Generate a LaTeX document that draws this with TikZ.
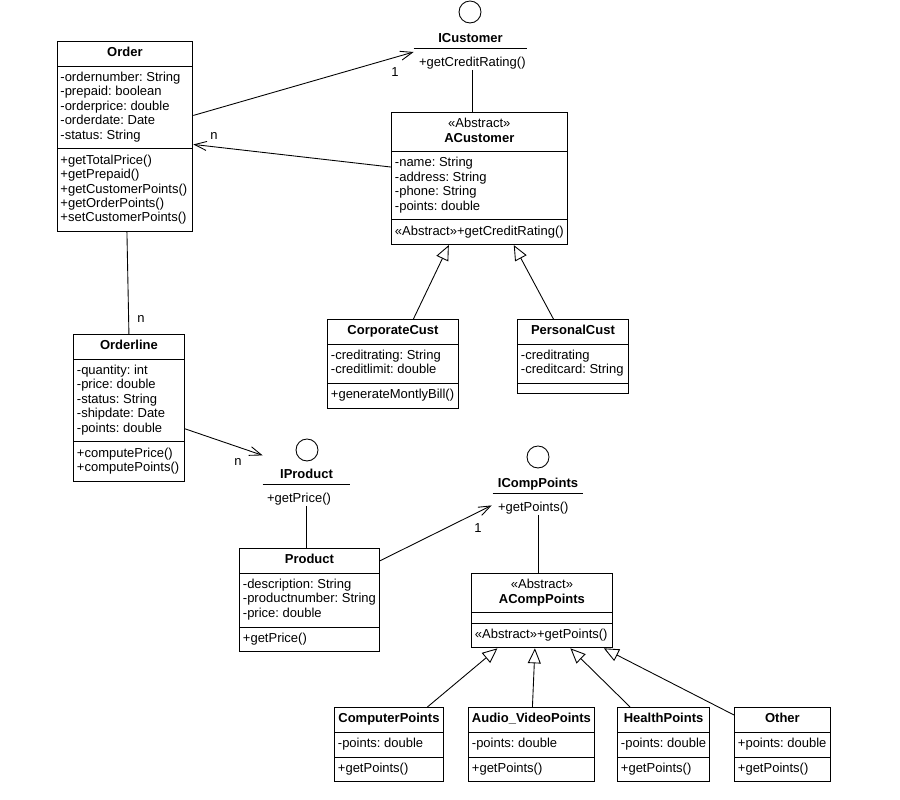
\documentclass[tikz,border=0pt]{standalone}
\usepackage{fontspec}
\setmainfont{Liberation Sans}
\usetikzlibrary{arrows.meta,positioning,shapes.multipart}
\newcommand{\umlfont}{\fontsize{7.4}{8.22}\selectfont\frenchspacing}
\newcommand{\rows}[1]{\begin{tabular}{@{}l@{}}#1\end{tabular}}
\newcommand{\stereo}[2]{\begin{tabular}{@{}c@{}}#1\\\textbf{#2}\end{tabular}}
\newcommand{\nothing}{\rule{1pt}{0pt}}
\tikzset{
  cls/.style={draw=black,line width=0.5pt,rectangle split,rectangle split parts=3,
    rectangle split part align={center,left,left},
    inner xsep=0.07cm,inner ysep=0.095cm,font=\umlfont,anchor=north west},
  % --- interface in lollipop notation ---
  lolli/.style={circle,draw=black,line width=0.5pt,minimum size=0.44cm,inner sep=0pt},
  iname/.style={font=\umlfont\bfseries,inner xsep=0pt,inner ysep=0.11cm,text depth=0pt,anchor=south},
  iop/.style={font=\umlfont,inner sep=0pt,anchor=north west},
  link/.style={draw=black,line width=0.5pt},
  assoc/.style={link,-{Straight Barb[length=2.4mm,width=1.8mm]}},
  inherit/.style={link,-{Triangle[open,length=3mm,width=2.6mm]}},
  mult/.style={font=\umlfont,inner sep=1pt},
}
\begin{document}
\begin{tikzpicture}[x=0.02cm,y=-0.02cm]
  \useasboundingbox (0,0) rectangle (900,800);
  \node[lolli] (icust) at (470,12) {};
  \node[iname,minimum width=2.26cm] (icustname) at (470.5,48) {ICustomer};
  \draw[link] (icustname.south west) -- (icustname.south east);
  \node[iop] (icustop) at ([xshift=0.1cm,yshift=-0.18cm]icustname.south west) {+getCreditRating()};
  \node[lolli] (iprod) at (307,450) {};
  \node[iname,minimum width=1.74cm] (iprodname) at (306.5,484) {IProduct};
  \draw[link] (iprodname.south west) -- (iprodname.south east);
  \node[iop] (iprodop) at ([xshift=0.08cm,yshift=-0.18cm]iprodname.south west) {+getPrice()};
  \node[lolli] (icp) at (538,457) {};
  \node[iname,minimum width=1.8cm] (icpname) at (538,493) {ICompPoints};
  \draw[link] (icpname.south west) -- (icpname.south east);
  \node[iop] (icpop) at ([xshift=0.1cm,yshift=-0.18cm]icpname.south west) {+getPoints()};

  \node[cls,minimum width=2.72cm] (order) at (56.5,41)
    {\rows{\textbf{Order}}%
     \nodepart{two}\rows{-ordernumber: String\\-prepaid: boolean\\-orderprice: double\\-orderdate: Date\\-status: String}%
     \nodepart{three}\rows{+getTotalPrice()\\+getPrepaid()\\+getCustomerPoints()\\+getOrderPoints()\\+setCustomerPoints()}};
  \node[cls,minimum width=3.5cm] (acust) at (391,112)
    {\stereo{«Abstract»}{ACustomer}%
     \nodepart{two}\rows{-name: String\\-address: String\\-phone: String\\-points: double}%
     \nodepart{three}\rows{«Abstract»+getCreditRating()}};
  \node[cls,minimum width=2.62cm] (corp) at (327,319)
    {\rows{\textbf{CorporateCust}}%
     \nodepart{two}\rows{-creditrating: String\\-creditlimit: double}%
     \nodepart{three}\rows{+generateMontlyBill()}};
  \node[cls,minimum width=2.22cm] (pers) at (517,319)
    {\rows{\textbf{PersonalCust}}%
     \nodepart{two}\rows{-creditrating\\-creditcard: String}%
     \nodepart{three}\nothing};
  \node[cls,minimum width=2.22cm] (oline) at (73,334)
    {\rows{\textbf{Orderline}}%
     \nodepart{two}\rows{-quantity: int\\-price: double\\-status: String\\-shipdate: Date\\-points: double}%
     \nodepart{three}\rows{+computePrice()\\+computePoints()}};
  \node[cls,minimum width=2.8cm] (product) at (239,548)
    {\rows{\textbf{Product}}%
     \nodepart{two}\rows{-description: String\\-productnumber: String\\-price: double}%
     \nodepart{three}\rows{+getPrice()}};
  \node[cls,minimum width=2.82cm] (acp) at (471,573)
    {\stereo{«Abstract»}{ACompPoints}%
     \nodepart{two}\nothing%
     \nodepart{three}\rows{«Abstract»+getPoints()}};
  \node[cls,minimum width=2.18cm] (comp) at (334,707)
    {\rows{\textbf{ComputerPoints}}%
     \nodepart{two}\rows{-points: double}%
     \nodepart{three}\rows{+getPoints()}};
  \node[cls,minimum width=2.52cm] (av) at (468,707)
    {\rows{\textbf{Audio\_VideoPoints}}%
     \nodepart{two}\rows{-points: double}%
     \nodepart{three}\rows{+getPoints()}};
  \node[cls,minimum width=1.82cm] (hp) at (617,707)
    {\rows{\textbf{HealthPoints}}%
     \nodepart{two}\rows{-points: double}%
     \nodepart{three}\rows{+getPoints()}};
  \node[cls,minimum width=1.92cm] (other) at (734,707)
    {\rows{\textbf{Other}}%
     \nodepart{two}\rows{+points: double}%
     \nodepart{three}\rows{+getPoints()}};

  \draw[assoc] ([yshift=0.42cm]order.east) -- ([yshift=-0.08cm]icustname.south west);
  \node[mult] (m1) at (395,72) {1};
  \draw[assoc] ([yshift=0.23cm]acust.west) -- ([yshift=-0.16cm]order.east);
  \node[mult] (m2) at (214,136) {n};
  \draw[link] (icustop.south) -- (icustop.south |- acust.north);
  \draw[inherit] ([xshift=0.41cm]corp.north) -- ([xshift=-0.61cm]acust.south);
  \draw[inherit] ([xshift=-0.39cm]pers.north) -- ([xshift=0.69cm]acust.south);
  \draw[link] ([xshift=0.04cm]order.south) -- (oline.north);
  \node[mult] (m3) at (141,319) {n};
  \draw[assoc] ([yshift=-0.42cm]oline.east) -- ([yshift=0.15cm]iprodname.north west);
  \node[mult] (m4) at (238,462) {n};
  \draw[link] (iprodname.south |- iprodop.south) -- (iprodname.south |- product.north);
  \draw[assoc] (product.one east) -- ([xshift=-0.12cm,yshift=0.06cm]icpop.west);
  \node[mult] (m5) at (478,528) {1};
  \draw[link] (icpname.south |- icpop.south) -- (icpname.south |- acp.north);
  \draw[inherit] ([xshift=0.77cm]comp.north) -- ([xshift=-0.89cm]acp.south);
  \draw[inherit] ([xshift=0.02cm]av.north) -- ([xshift=-0.14cm]acp.south);
  \draw[inherit] ([xshift=-0.67cm]hp.north) -- ([xshift=0.57cm]acp.south);
  \draw[inherit] ([yshift=-0.16cm]other.north west) -- ([xshift=-0.18cm]acp.south east);
\end{tikzpicture}
\end{document}
